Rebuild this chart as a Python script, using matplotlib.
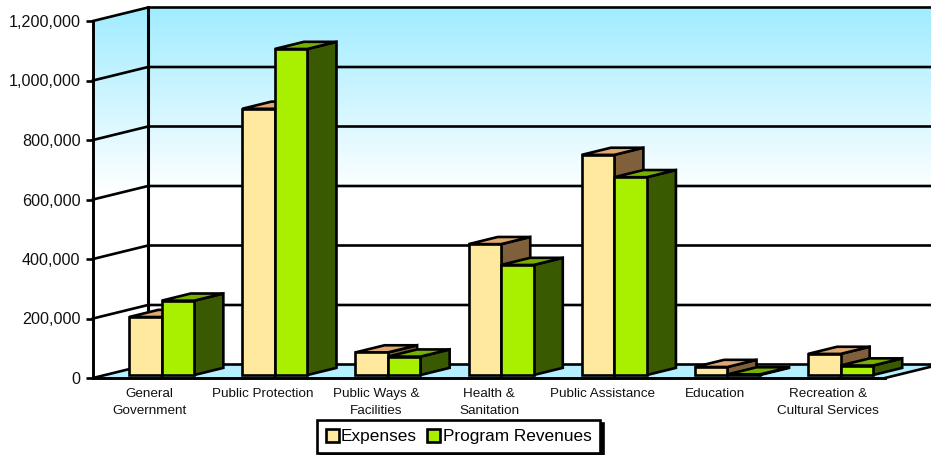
import numpy as np
import matplotlib
matplotlib.use('Agg')
import matplotlib.pyplot as plt
from matplotlib.colors import LinearSegmentedColormap
from matplotlib.patches import Patch, Polygon
from matplotlib.ticker import FuncFormatter

plt.rcParams['font.family'] = ['Liberation Sans', 'DejaVu Sans']

categories = ['General\nGovernment', 'Public Protection', 'Public Ways &\nFacilities',
              'Health &\nSanitation', 'Public Assistance', 'Education',
              'Recreation &\nCultural Services']
expenses = [195000, 895000, 76000, 440000, 740000, 27000, 71000]
revenues = [250000, 1096000, 62000, 370000, 665000, 2000, 32000]
y_ticks = [0, 200000, 400000, 600000, 800000, 1000000, 1200000]

W, H = 931, 455
LEFT, RIGHT, TOP, BOTTOM = 93, 885, 21, 378
Y_MAX = 1200000

# oblique projection of the chart depth, in data units
DEPTH_X = 55 / ((RIGHT - LEFT) / len(categories))
DEPTH_Y = 13.5 / ((BOTTOM - TOP) / Y_MAX)
BAR_START = 0.22
BAR_DEPTH = 0.53
BAR_WIDTH = 0.2875
LW = 1.9

fig = plt.figure(figsize=(W / 100, H / 100), dpi=100, facecolor='white')
ax = fig.add_axes([LEFT / W, 1 - BOTTOM / H, (RIGHT - LEFT) / W, (BOTTOM - TOP) / H])
ax.patch.set_visible(False)
n = len(categories)


def poly(points, color, z):
    ax.add_patch(Polygon(points, closed=True, facecolor=color, edgecolor='black', linewidth=LW,
                         joinstyle='miter', clip_on=False, zorder=z))


def draw_bar(x0, value, front, top, side, z):
    sx = BAR_START * DEPTH_X
    sy = BAR_START * DEPTH_Y
    dx = BAR_DEPTH * DEPTH_X
    dy = BAR_DEPTH * DEPTH_Y
    x0 = x0 + sx
    x1 = x0 + BAR_WIDTH
    y0 = sy
    y1 = sy + value
    poly([(x1, y0), (x1 + dx, y0 + dy), (x1 + dx, y1 + dy), (x1, y1)], side, z)
    poly([(x0, y1), (x1, y1), (x1 + dx, y1 + dy), (x0 + dx, y1 + dy)], top, z)
    poly([(x0, y0), (x1, y0), (x1, y1), (x0, y1)], front, z)


# wall gradient, fades out towards the middle of the wall
wall_cmap = LinearSegmentedColormap.from_list('wall', ['white', 'white', '#A0ECFF'])
grad = np.linspace(1, 0, 256).reshape(-1, 1)
im = ax.imshow(grad, aspect='auto', cmap=wall_cmap, vmin=0, vmax=1, zorder=0,
               extent=(0, n + DEPTH_X, 0, Y_MAX + DEPTH_Y))
wall = Polygon([(0, 0), (DEPTH_X, DEPTH_Y), (n + DEPTH_X, DEPTH_Y), (n + DEPTH_X, Y_MAX + DEPTH_Y),
                (DEPTH_X, Y_MAX + DEPTH_Y), (0, Y_MAX)], transform=ax.transData)
im.set_clip_path(wall)
im.set_clip_box(fig.bbox)

# floor
ax.add_patch(Polygon([(0, 0), (n, 0), (n + DEPTH_X, DEPTH_Y), (DEPTH_X, DEPTH_Y)], facecolor='#B4F0FF',
                     edgecolor='none', clip_on=False, zorder=1))

# grid lines run along the left wall and then the back wall
for v in y_ticks:
    ax.plot([0, DEPTH_X, n + DEPTH_X], [v, v + DEPTH_Y, v + DEPTH_Y], color='black', lw=LW,
            clip_on=False, zorder=2, solid_joinstyle='miter')
ax.plot([DEPTH_X, DEPTH_X], [DEPTH_Y, Y_MAX + DEPTH_Y], color='black', lw=LW + 0.3, clip_on=False, zorder=2)
ax.plot([n, n + DEPTH_X], [0, DEPTH_Y], color='black', lw=LW, clip_on=False, zorder=2)

for i in range(n):
    x_left = i + 0.5 - BAR_WIDTH
    draw_bar(x_left, expenses[i], '#FFE99E', '#E0A76E', '#80603A', 3 + i * 0.1)
    draw_bar(x_left + BAR_WIDTH, revenues[i], '#A8F000', '#78B000', '#395A00', 3.05 + i * 0.1)

ax.set_xlim(0, n)
ax.set_ylim(0, Y_MAX)
ax.set_xticks(np.arange(n) + 0.5)
ax.set_xticklabels(categories, fontsize=9.7, linespacing=1.6, color='#111111')
ax.tick_params(axis='x', length=0, pad=7)
ax.set_yticks(y_ticks)
ax.yaxis.set_major_formatter(FuncFormatter(lambda v, _: f'{int(v):,}'))
ax.tick_params(axis='y', length=5, width=LW, pad=4, labelsize=11.6, labelcolor='#111111')
for name in ['top', 'right']:
    ax.spines[name].set_visible(False)
for name in ['left', 'bottom']:
    ax.spines[name].set_linewidth(LW + 0.2)
    ax.spines[name].set_zorder(2.5)

handles = [Patch(facecolor='#FFE99E', edgecolor='black', linewidth=LW, joinstyle='miter'),
           Patch(facecolor='#A8F000', edgecolor='black', linewidth=LW, joinstyle='miter')]
leg = fig.legend(handles, ['Expenses', 'Program Revenues'], ncols=2, fontsize=12.4,
                 loc='lower left', bbox_to_anchor=(317 / W, 1 - 453 / H), borderaxespad=0,
                 handlelength=0.75, handleheight=0.75, handletextpad=0.15, columnspacing=0.6,
                 borderpad=0.5, fancybox=False, framealpha=1, edgecolor='black',
                 shadow={'color': 'black', 'alpha': 1})
leg.get_frame().set_linewidth(LW)

fig.savefig('out.png', dpi=100)
